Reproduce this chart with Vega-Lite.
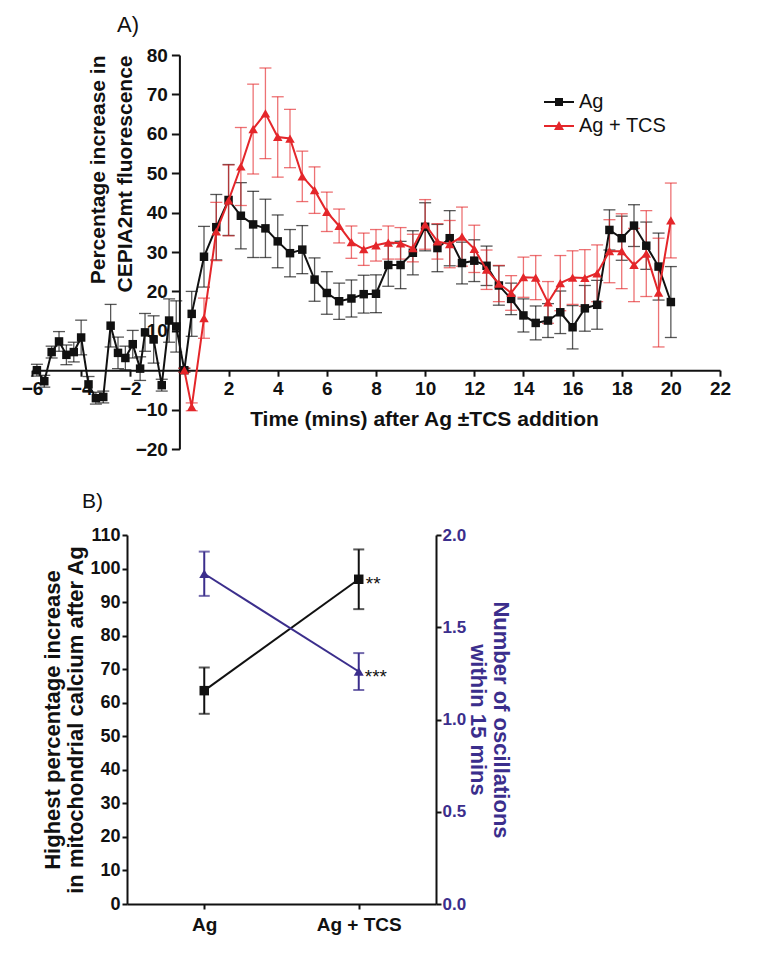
{
  "$schema": "https://vega.github.io/schema/vega-lite/v6.json",
  "background": "white",
  "padding": {"left": 21, "top": 14, "right": 5, "bottom": 5},
  "config": {
    "view": {"stroke": null},
    "font": "Liberation Sans",
    "axis": {"domainColor": "#111111", "tickColor": "#111111", "labelColor": "#111111", "titleColor": "#111111", "grid": false, "labelFont": "Liberation Sans", "titleFont": "Liberation Sans"},
    "title": {"color": "#111111", "font": "Liberation Sans"}
  },
  "datasets": {
    "tc": [
      {"s": "Ag", "t": -5.8, "v": 0, "e": 1.5},
      {"s": "Ag", "t": -5.5, "v": -2.8, "e": 1.5},
      {"s": "Ag", "t": -5.2, "v": 4.6, "e": 1.5},
      {"s": "Ag", "t": -4.9, "v": 7.3, "e": 2.5},
      {"s": "Ag", "t": -4.6, "v": 3.9, "e": 2.5},
      {"s": "Ag", "t": -4.3, "v": 4.6, "e": 2.5},
      {"s": "Ag", "t": -4.0, "v": 8.3, "e": 4.4},
      {"s": "Ag", "t": -3.7, "v": -3.6, "e": 2},
      {"s": "Ag", "t": -3.4, "v": -7.1, "e": 1.5},
      {"s": "Ag", "t": -3.1, "v": -6.8, "e": 1.5},
      {"s": "Ag", "t": -2.8, "v": 11.3, "e": 5.4},
      {"s": "Ag", "t": -2.5, "v": 4.4, "e": 4},
      {"s": "Ag", "t": -2.2, "v": 3.1, "e": 3},
      {"s": "Ag", "t": -1.9, "v": 6.6, "e": 3.5},
      {"s": "Ag", "t": -1.6, "v": 0.4, "e": 3},
      {"s": "Ag", "t": -1.4, "v": 9.6, "e": 4.8},
      {"s": "Ag", "t": -1.05, "v": 7.8, "e": 6},
      {"s": "Ag", "t": -0.72, "v": -3.8, "e": 1.5},
      {"s": "Ag", "t": -0.42, "v": 12.6, "e": 5.5},
      {"s": "Ag", "t": -0.13, "v": 11.1, "e": 6.5},
      {"s": "Ag", "t": 0.2, "v": 0, "e": 0.5},
      {"s": "Ag", "t": 0.5, "v": 14.3, "e": 5.7},
      {"s": "Ag", "t": 1.0, "v": 28.8, "e": 7.7},
      {"s": "Ag", "t": 1.5, "v": 36.3, "e": 8.3},
      {"s": "Ag", "t": 2.0, "v": 43.2, "e": 9},
      {"s": "Ag", "t": 2.5, "v": 39.2, "e": 8.4},
      {"s": "Ag", "t": 3.0, "v": 37.0, "e": 8.4},
      {"s": "Ag", "t": 3.5, "v": 36.0, "e": 7.4},
      {"s": "Ag", "t": 4.0, "v": 32.7, "e": 6.7},
      {"s": "Ag", "t": 4.5, "v": 29.7, "e": 6},
      {"s": "Ag", "t": 5.0, "v": 30.6, "e": 6.1},
      {"s": "Ag", "t": 5.5, "v": 23.0, "e": 5.5},
      {"s": "Ag", "t": 6.0, "v": 19.6, "e": 5.4},
      {"s": "Ag", "t": 6.5, "v": 17.5, "e": 4.6},
      {"s": "Ag", "t": 7.0, "v": 18.2, "e": 4.7},
      {"s": "Ag", "t": 7.5, "v": 19.3, "e": 4.8},
      {"s": "Ag", "t": 8.0, "v": 19.4, "e": 4.8},
      {"s": "Ag", "t": 8.5, "v": 26.7, "e": 5.4},
      {"s": "Ag", "t": 9.0, "v": 26.7, "e": 6},
      {"s": "Ag", "t": 9.5, "v": 29.8, "e": 5.6},
      {"s": "Ag", "t": 10.0, "v": 36.4, "e": 6.1},
      {"s": "Ag", "t": 10.5, "v": 31.0, "e": 6},
      {"s": "Ag", "t": 11.0, "v": 33.5, "e": 7},
      {"s": "Ag", "t": 11.5, "v": 27.2, "e": 5.3},
      {"s": "Ag", "t": 12.0, "v": 27.8, "e": 5.3},
      {"s": "Ag", "t": 12.5, "v": 26.5, "e": 5},
      {"s": "Ag", "t": 13.0, "v": 21.5, "e": 5},
      {"s": "Ag", "t": 13.5, "v": 18.1, "e": 4},
      {"s": "Ag", "t": 14.0, "v": 13.9, "e": 4.2},
      {"s": "Ag", "t": 14.5, "v": 12.0, "e": 4.3},
      {"s": "Ag", "t": 15.0, "v": 12.6, "e": 4.3},
      {"s": "Ag", "t": 15.5, "v": 14.7, "e": 5.4},
      {"s": "Ag", "t": 16.0, "v": 10.9, "e": 5.5},
      {"s": "Ag", "t": 16.5, "v": 15.7, "e": 5.8},
      {"s": "Ag", "t": 17.0, "v": 16.6, "e": 6.2},
      {"s": "Ag", "t": 17.5, "v": 35.6, "e": 5.1},
      {"s": "Ag", "t": 18.0, "v": 33.5, "e": 5.6},
      {"s": "Ag", "t": 18.5, "v": 36.7, "e": 5.3},
      {"s": "Ag", "t": 19.0, "v": 31.6, "e": 6},
      {"s": "Ag", "t": 19.5, "v": 26.3, "e": 8.5},
      {"s": "Ag", "t": 20.0, "v": 17.3, "e": 9},
      {"s": "Ag + TCS", "t": 0.2, "v": 0, "e": 0.5},
      {"s": "Ag + TCS", "t": 0.5, "v": -9.3, "e": 1},
      {"s": "Ag + TCS", "t": 1.0, "v": 13.2, "e": 5.1},
      {"s": "Ag + TCS", "t": 1.5, "v": 35.2, "e": 7.4},
      {"s": "Ag + TCS", "t": 2.0, "v": 43.1, "e": 9},
      {"s": "Ag + TCS", "t": 2.5, "v": 51.7, "e": 9.9},
      {"s": "Ag + TCS", "t": 3.0, "v": 61.2, "e": 11.4},
      {"s": "Ag + TCS", "t": 3.5, "v": 65.2, "e": 11.5},
      {"s": "Ag + TCS", "t": 4.0, "v": 59.2, "e": 10.2},
      {"s": "Ag + TCS", "t": 4.5, "v": 58.8, "e": 7.4},
      {"s": "Ag + TCS", "t": 5.0, "v": 49.2, "e": 6.4},
      {"s": "Ag + TCS", "t": 5.5, "v": 45.7, "e": 5.9},
      {"s": "Ag + TCS", "t": 6.0, "v": 40.2, "e": 5},
      {"s": "Ag + TCS", "t": 6.5, "v": 36.6, "e": 4.3},
      {"s": "Ag + TCS", "t": 7.0, "v": 32.5, "e": 4.1},
      {"s": "Ag + TCS", "t": 7.5, "v": 30.7, "e": 4.1},
      {"s": "Ag + TCS", "t": 8.0, "v": 31.7, "e": 4},
      {"s": "Ag + TCS", "t": 8.5, "v": 32.4, "e": 4.2},
      {"s": "Ag + TCS", "t": 9.0, "v": 32.2, "e": 4},
      {"s": "Ag + TCS", "t": 9.5, "v": 31.0, "e": 3.5},
      {"s": "Ag + TCS", "t": 10.0, "v": 37.0, "e": 6.3},
      {"s": "Ag + TCS", "t": 10.5, "v": 32.7, "e": 4.5},
      {"s": "Ag + TCS", "t": 11.0, "v": 32.0, "e": 6},
      {"s": "Ag + TCS", "t": 11.5, "v": 33.9, "e": 7.5},
      {"s": "Ag + TCS", "t": 12.0, "v": 30.8, "e": 6},
      {"s": "Ag + TCS", "t": 12.5, "v": 25.5, "e": 5},
      {"s": "Ag + TCS", "t": 13.0, "v": 22.0, "e": 4.6},
      {"s": "Ag + TCS", "t": 13.5, "v": 19.6, "e": 4.4},
      {"s": "Ag + TCS", "t": 14.0, "v": 23.6, "e": 5.1},
      {"s": "Ag + TCS", "t": 14.5, "v": 23.5, "e": 5.6},
      {"s": "Ag + TCS", "t": 15.0, "v": 17.2, "e": 5.3},
      {"s": "Ag + TCS", "t": 15.5, "v": 22.1, "e": 7},
      {"s": "Ag + TCS", "t": 16.0, "v": 23.5, "e": 6.8},
      {"s": "Ag + TCS", "t": 16.5, "v": 23.4, "e": 7.2},
      {"s": "Ag + TCS", "t": 17.0, "v": 24.6, "e": 7.2},
      {"s": "Ag + TCS", "t": 17.5, "v": 30.2, "e": 8},
      {"s": "Ag + TCS", "t": 18.0, "v": 30.2, "e": 9.5},
      {"s": "Ag + TCS", "t": 18.5, "v": 26.7, "e": 9.3},
      {"s": "Ag + TCS", "t": 19.0, "v": 29.6, "e": 10.9},
      {"s": "Ag + TCS", "t": 19.5, "v": 19.7, "e": 13.8},
      {"s": "Ag + TCS", "t": 20.0, "v": 38.0, "e": 9.5}
    ],
    "peak": [
      {"cond": "Ag", "v": 63.6, "err": 6.9, "sig": ""},
      {"cond": "Ag + TCS", "v": 96.8, "err": 8.9, "sig": "**"}
    ],
    "osc": [
      {"cond": "Ag", "v": 1.79, "err": 0.12, "sig": ""},
      {"cond": "Ag + TCS", "v": 1.26, "err": 0.1, "sig": "***"}
    ],
    "blank": [{"k": ""}]
  },
  "spacing": 32,
  "vconcat": [
    {
      "width": 688,
      "height": 394,
      "title": {"text": "A)", "anchor": "start", "frame": "group", "dx": 85, "fontSize": 22, "fontWeight": "normal", "offset": 9},
      "data": {"name": "tc"},
      "encoding": {
        "x": {
          "field": "t", "type": "quantitative",
          "scale": {"domain": [-6, 22], "nice": false, "zero": false},
          "axis": {
            "offset": -78.8, "values": [-6, -4, -2, 2, 4, 6, 8, 10, 12, 14, 16, 18, 20, 22],
            "labelFontSize": 19, "labelFontWeight": "bold", "labelFlush": false, "labelPadding": 3,
            "tickSize": 6, "tickWidth": 2, "domainWidth": 2,
            "title": "Time (mins) after Ag ±TCS addition", "titleFontSize": 21, "titleFontWeight": "bold",
            "titlePadding": 10, "titleX": 392
          }
        },
        "y": {
          "field": "v", "type": "quantitative",
          "scale": {"domain": [-20, 80], "nice": false},
          "axis": {
            "offset": -147.4, "values": [-20, -10, 10, 20, 30, 40, 50, 60, 70, 80],
            "labelFontSize": 19, "labelFontWeight": "bold", "labelPadding": 4,
            "tickSize": 8, "tickWidth": 2, "domainWidth": 2,
            "title": ["Percentage increase in", "CEPIA2mt fluorescence"],
            "titleFontSize": 21, "titleFontWeight": "bold", "titleAnchor": "end",
            "titlePadding": 0, "titleLineHeight": 27
          }
        }
      },
      "layer": [
        {
          "transform": [{"filter": "datum.s === 'Ag'"}],
          "mark": {"type": "errorbar", "ticks": true, "size": 12, "thickness": 1.3, "opacity": 0.7, "color": "#111111"},
          "encoding": {"yError": {"field": "e"}}
        },
        {
          "transform": [{"filter": "datum.s === 'Ag + TCS'"}],
          "mark": {"type": "errorbar", "ticks": true, "size": 12, "thickness": 1.3, "opacity": 0.65, "color": "#e4262a"},
          "encoding": {"yError": {"field": "e"}}
        },
        {
          "transform": [{"filter": "datum.s === 'Ag'"}],
          "mark": {"type": "line", "strokeWidth": 2, "color": "#111111"}
        },
        {
          "transform": [{"filter": "datum.s === 'Ag'"}],
          "mark": {"type": "point", "shape": "square", "filled": true, "size": 72, "color": "#111111", "opacity": 1}
        },
        {
          "transform": [{"filter": "datum.s === 'Ag + TCS'"}],
          "mark": {"type": "line", "strokeWidth": 2, "color": "#e4262a"}
        },
        {
          "transform": [{"filter": "datum.s === 'Ag + TCS'"}],
          "mark": {"type": "point", "shape": "triangle-up", "filled": true, "size": 90, "color": "#e4262a", "opacity": 1}
        },
        {
          "mark": {"type": "point", "filled": true, "opacity": 0, "size": 400},
          "encoding": {
            "fill": {
              "field": "s", "type": "nominal",
              "scale": {"domain": ["Ag", "Ag + TCS"], "range": ["#111111", "#e4262a"]},
              "legend": {"orient": "none", "legendX": 517, "legendY": 37, "title": null, "labelFontSize": 20, "labelFont": "Liberation Sans", "labelColor": "#111111", "symbolSize": 400, "symbolOpacity": 1, "rowPadding": 4, "labelOffset": 10, "padding": 0, "symbolStrokeWidth": 0}
            },
            "shape": {
              "field": "s", "type": "nominal",
              "scale": {"domain": ["Ag", "Ag + TCS"], "range": ["M-1.5,-0.1H1.5V0.1H-1.5Z M-0.4,-0.4H0.4V0.4H-0.4Z", "M-1.5,-0.1H1.5V0.1H-1.5Z M0,-0.5L0.5,0.4L-0.5,0.4Z"]},
              "legend": {"orient": "none", "legendX": 517, "legendY": 37, "title": null, "labelFontSize": 20, "labelFont": "Liberation Sans", "labelColor": "#111111", "symbolSize": 400, "symbolOpacity": 1, "rowPadding": 4, "labelOffset": 10, "padding": 0, "symbolStrokeWidth": 0}
            }
          }
        }
      ]
    },
    {
      "spacing": 0,
      "hconcat": [
        {
          "width": 9,
          "height": 1,
          "data": {"name": "blank"},
          "mark": {"type": "text", "opacity": 0},
          "encoding": {"text": {"field": "k"}}
        },
        {
          "width": 309,
          "height": 369,
          "title": {"text": "B)", "anchor": "start", "frame": "group", "dx": -45, "fontSize": 21, "fontWeight": "normal", "offset": 14, "font": "Liberation Sans Narrow, Liberation Sans"},
          "encoding": {
            "x": {
              "field": "cond", "type": "nominal",
              "scale": {"type": "point", "domain": ["Ag", "Ag + TCS"], "padding": 0.5},
              "axis": {"title": null, "labelAngle": 0, "labelFont": "Liberation Sans Narrow, Liberation Sans", "labelFontSize": 19, "labelFontWeight": "bold", "tickSize": 5, "tickWidth": 2, "labelPadding": 6, "domainWidth": 2}
            }
          },
          "layer": [
            {
              "data": {"name": "peak"},
              "encoding": {
                "y": {
                  "field": "v", "type": "quantitative",
                  "scale": {"domain": [0, 110], "nice": false},
                  "axis": {
                    "orient": "left", "values": [0, 10, 20, 30, 40, 50, 60, 70, 80, 90, 100, 110],
                    "labelFont": "Liberation Sans Narrow, Liberation Sans", "labelFontSize": 18, "labelFontWeight": "bold", "labelPadding": 2,
                    "tickSize": 5, "tickWidth": 2, "domainWidth": 2,
                    "title": ["Highest percentage increase", "in mitochondrial calcium after Ag"],
                    "titleFontSize": 22, "titleFontWeight": "bold", "titlePadding": 2, "titleLineHeight": 23
                  }
                }
              },
              "layer": [
                {"mark": {"type": "errorbar", "ticks": true, "size": 11, "thickness": 2, "color": "#111111"}, "encoding": {"yError": {"field": "err"}}},
                {"mark": {"type": "line", "color": "#111111", "strokeWidth": 2}},
                {"mark": {"type": "point", "shape": "square", "filled": true, "size": 90, "color": "#111111", "opacity": 1}},
                {"mark": {"type": "text", "align": "left", "baseline": "middle", "dx": 7, "dy": 5, "fontSize": 19, "color": "#111111"}, "encoding": {"text": {"field": "sig"}}}
              ]
            },
            {
              "data": {"name": "osc"},
              "encoding": {
                "y": {
                  "field": "v", "type": "quantitative",
                  "scale": {"domain": [0, 2], "nice": false},
                  "axis": {
                    "orient": "right", "values": [0, 0.5, 1, 1.5, 2], "format": ".1f",
                    "labelFont": "Liberation Sans Narrow, Liberation Sans", "labelFontSize": 17, "labelFontWeight": "bold", "labelPadding": 1,
                    "labelColor": "#3b2e8c", "titleColor": "#3b2e8c",
                    "tickSize": 5, "tickWidth": 2, "domainWidth": 2,
                    "title": ["Number of oscillations", "within 15 mins"],
                    "titleFontSize": 22, "titleFontWeight": "bold", "titlePadding": 0, "titleLineHeight": 23
                  }
                }
              },
              "layer": [
                {"mark": {"type": "errorbar", "ticks": true, "size": 11, "thickness": 2, "color": "#3b2e8c"}, "encoding": {"yError": {"field": "err"}}},
                {"mark": {"type": "line", "color": "#3b2e8c", "strokeWidth": 2}},
                {"mark": {"type": "point", "shape": "triangle-up", "filled": true, "size": 100, "color": "#3b2e8c", "opacity": 1}},
                {"mark": {"type": "text", "align": "left", "baseline": "middle", "dx": 6, "dy": 5, "fontSize": 19, "color": "#111111"}, "encoding": {"text": {"field": "sig"}}}
              ]
            }
          ],
          "resolve": {"scale": {"y": "independent"}}
        }
      ]
    }
  ]
}
